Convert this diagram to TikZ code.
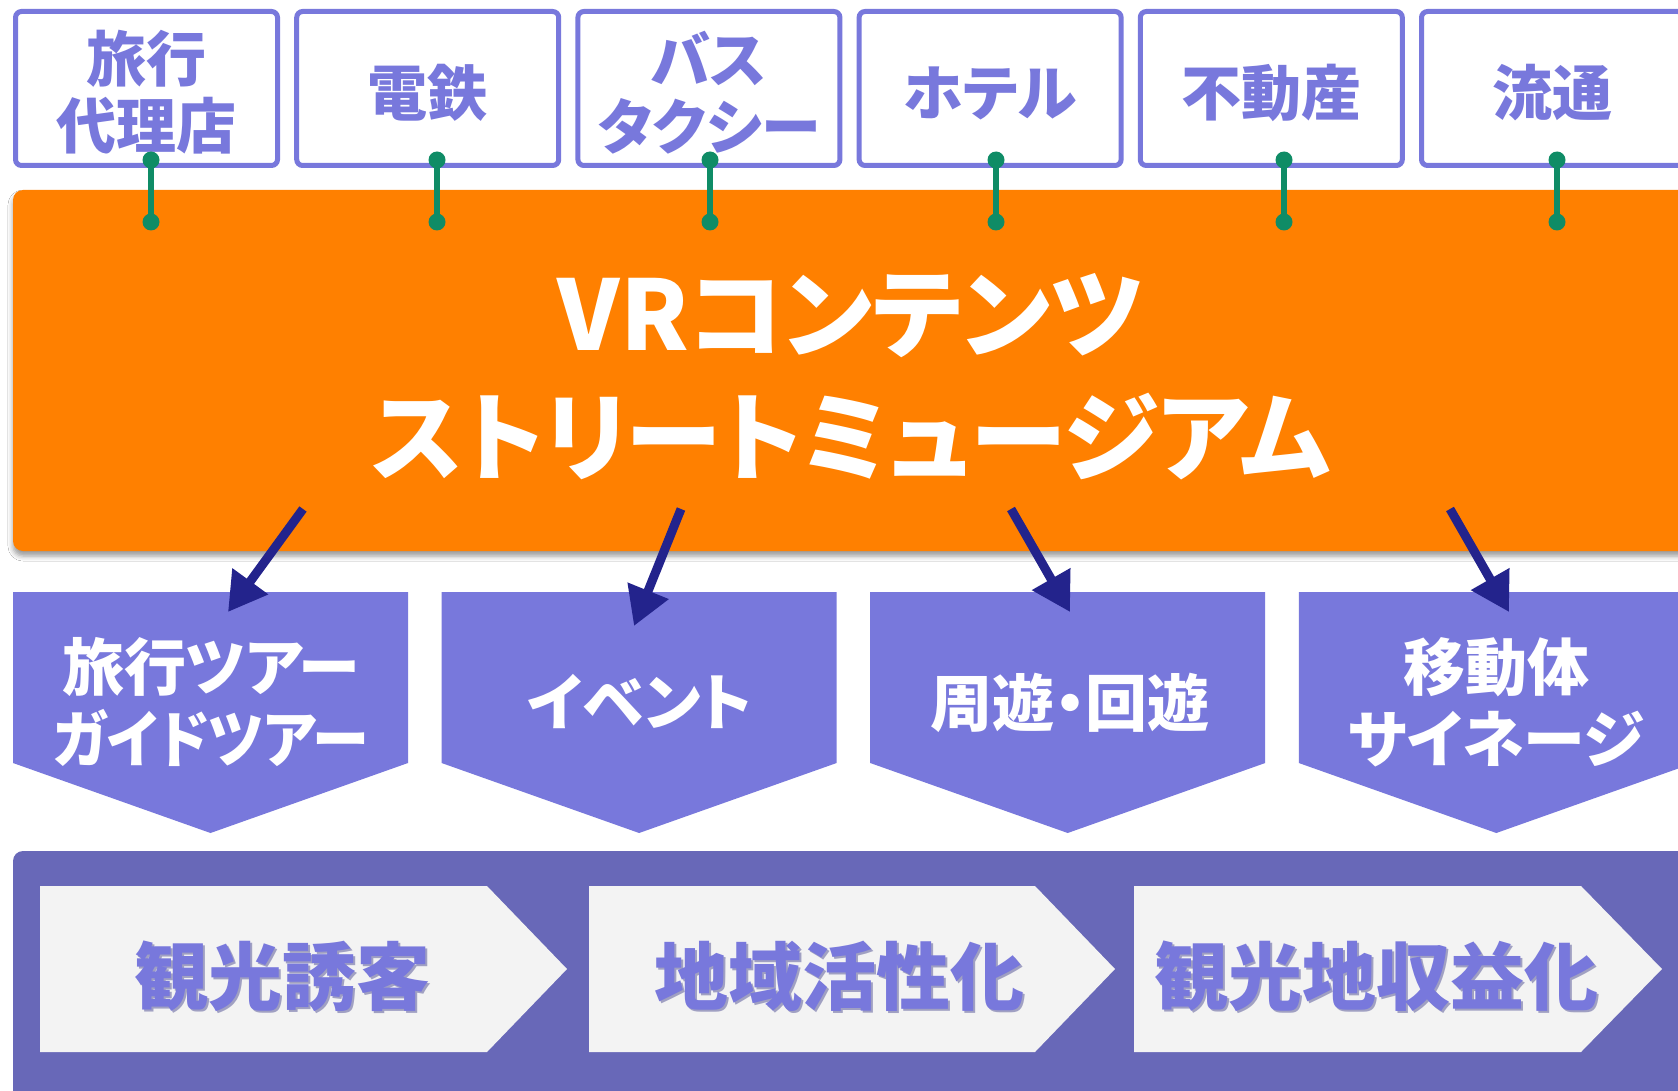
\documentclass[tikz,border=0pt]{standalone}
\usepackage{fontspec}
\newfontfamily\jp{Noto Sans CJK JP Black}[RawFeature={+palt}]
\usetikzlibrary{shadows.blur,arrows.meta}
\definecolor{pur}{HTML}{7878DC}
\definecolor{grn}{HTML}{0F8C66}
\definecolor{org}{HTML}{FF8000}
\definecolor{navy}{HTML}{23238C}
\definecolor{band}{HTML}{6868B8}
\definecolor{lite}{HTML}{F3F3F3}
\definecolor{tshadow}{HTML}{3C3C88}
\begin{document}
\begin{tikzpicture}[x=1pt,y=-1pt,
  topbox/.style={draw=pur,line width=5pt,rounded corners=6pt,fill=white,minimum width=262pt,minimum height=154pt,inner sep=0pt},
  toptext/.style={text=pur,align=center,inner sep=0pt,font=\jp\fontsize{60}{67}\selectfont},
  conn/.style={draw=grn,line width=6.5pt},
  dot/.style={fill=grn},
  orgbox/.style={fill=org,rounded corners=10pt,minimum width=1677pt,minimum height=361pt,inner sep=0pt,
    blur shadow={shadow xshift=0pt,shadow yshift=-5pt,shadow blur radius=5pt,shadow opacity=40}},
  titletext/.style={text=white,align=center,inner sep=0pt,font=\jp\fontsize{97}{123}\selectfont},
  arr/.style={draw=navy,line width=9pt,-{Triangle[length=38pt,width=42pt]}},
  chev/.style={fill=pur},
  chevtext/.style={text=white,align=center,inner sep=0pt,font=\jp\fontsize{62}{72}\selectfont},
  bandbox/.style={fill=band,rounded corners=10pt},
  lite/.style={fill=lite},
  bottext/.style={text=pur,inner sep=0pt,font=\jp\fontsize{74}{80}\selectfont},
  botshadow/.style={text=tshadow,opacity=0.45,inner sep=0pt,font=\jp\fontsize{74}{80}\selectfont}
]
\useasboundingbox (0,0) rectangle (1678,1091);
\clip (0,0) rectangle (1678,1091);
\fill[white] (0,0) rectangle (1678,1091);

% orange main box
\node[orgbox] (vr) at (851.5,370.5) {};
\node[titletext] (ttl) at (851,377) {VRコンテンツ\\ストリートミュージアム};

% top boxes
\node[topbox] (t1) at (146.5,88.5) {};
\node[topbox] (t2) at (427.7,88.5) {};
\node[topbox] (t3) at (708.9,88.5) {};
\node[topbox] (t4) at (990.1,88.5) {};
\node[topbox] (t5) at (1271.3,88.5) {};
\node[topbox] (t6) at (1552.5,88.5) {};
\node[toptext] (l1) at (146.5,92.5) {旅行\\代理店};
\node[toptext] (l2) at (427.7,93) {電鉄};
\node[toptext] (l3) at (708.9,92.5) {バス\\タクシー};
\node[toptext] (l4) at (990.1,93) {ホテル};
\node[toptext] (l5) at (1271.3,93) {不動産};
\node[toptext] (l6) at (1552.5,93) {流通};

% green connectors
\foreach \i/\x in {1/151,2/437,3/710,4/996,5/1284,6/1557}{
  \coordinate (ca\i) at (\x,160);
  \coordinate (cb\i) at (\x,222);
  \draw[conn] (ca\i) -- (cb\i);
  \fill[dot] (ca\i) circle (8.5pt);
  \fill[dot] (cb\i) circle (8.5pt);
}

% chevrons
\foreach \i/\l in {1/13,2/441.6,3/870.2,4/1298.8}{
  \fill[chev] (\l,592) -- ++(395,0) -- ++(0,171) -- ++(-197.5,70) -- ++(-197.5,-70) -- cycle;
}
\node[chevtext] (m1) at (211,702) {旅行ツアー\\\scalebox{0.92}[1]{ガイドツアー}};
\node[chevtext] (m2) at (640,701) {イベント};
\node[chevtext] (m3) at (1070,703) {周遊・回遊};
\node[chevtext] (m4) at (1496,702) {移動体\\サイネージ};

% arrows
\coordinate (a1s) at (303,509); \coordinate (a1e) at (228,612);
\coordinate (a2s) at (681,509); \coordinate (a2e) at (634,626);
\coordinate (a3s) at (1011,509); \coordinate (a3e) at (1070,612);
\coordinate (a4s) at (1450,509); \coordinate (a4e) at (1509,612);
\draw[arr] (a1s) -- (a1e);
\draw[arr] (a2s) -- (a2e);
\draw[arr] (a3s) -- (a3e);
\draw[arr] (a4s) -- (a4e);

% bottom band
\fill[bandbox] (13,851) rectangle (1710,1120);
\fill[lite] (40,886) -- (487,886) -- (567,969) -- (487,1052) -- (40,1052) -- cycle;
\fill[lite] (589,886) -- (1035,886) -- (1115,969) -- (1035,1052) -- (589,1052) -- cycle;
\fill[lite] (1134,886) -- (1581,886) -- (1662,969) -- (1581,1052) -- (1134,1052) -- cycle;
\node[botshadow] at (284,978) {観光誘客};
\node[botshadow] at (841,978) {地域活性化};
\node[botshadow] at (1378,978) {観光地収益化};
\node[bottext] (b1) at (282,976) {観光誘客};
\node[bottext] (b2) at (839,976) {地域活性化};
\node[bottext] (b3) at (1376,976) {観光地収益化};
\end{tikzpicture}
\end{document}
